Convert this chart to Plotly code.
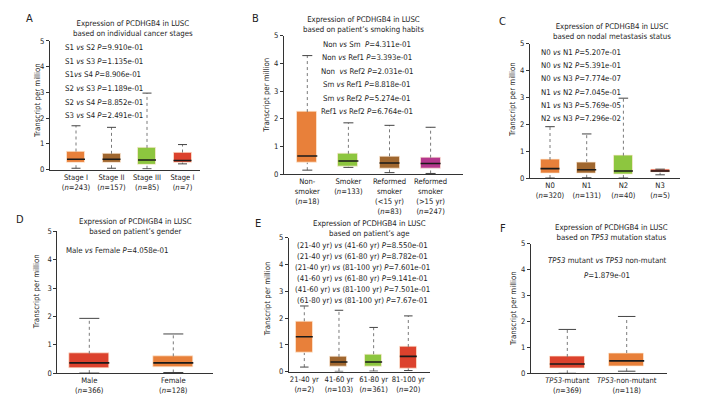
import plotly.graph_objects as go

W, H = 722, 404
FONT = "DejaVu Sans Condensed, DejaVu Sans, sans-serif"
TXT = "#222222"

# ---------------- data ----------------
A_labels = ["Stage I<br>(<i>n</i>=243)", "Stage II<br>(<i>n</i>=157)", "Stage III<br>(<i>n</i>=85)", "Stage I<br>(<i>n</i>=7)"]
A_min = [0.05, 0.05, 0.03, 0.22]
A_q1 = [0.24, 0.25, 0.20, 0.27]
A_med = [0.40, 0.40, 0.37, 0.35]
A_q3 = [0.70, 0.61, 0.84, 0.66]
A_max = [1.70, 1.64, 2.97, 0.97]
A_pvals = ["S1 <i>vs</i> S2 <i>P</i>=9.910e-01", "S1 <i>vs</i> S3 <i>P</i>=1.135e-01",
           "S1<i>vs</i> S4 <i>P</i>=8.906e-01", "S2 <i>vs</i> S3 <i>P</i>=1.189e-01",
           "S2 <i>vs</i> S4 <i>P</i>=8.852e-01", "S3 <i>vs</i> S4 <i>P</i>=2.491e-01"]
A_title = "Expression of PCDHGB4 in LUSC<br>based on individual cancer stages"

B_labels = ["Non-<br>smoker<br>(<i>n</i>=18)", "Smoker<br>(<i>n</i>=133)",
            "Reformed<br>smoker<br>(&lt;15 yr)<br>(<i>n</i>=83)", "Reformed<br>smoker<br>(&gt;15 yr)<br>(<i>n</i>=247)"]
B_min = [0.14, 0.24, 0.05, 0.02]
B_q1 = [0.41, 0.26, 0.21, 0.19]
B_med = [0.65, 0.47, 0.40, 0.38]
B_q3 = [2.24, 0.73, 0.64, 0.59]
B_max = [4.28, 1.85, 1.76, 1.69]
B_pvals = ["Non <i>vs</i> Sm  <i>P</i>=4.311e-01", "Non <i>vs</i> Ref1 <i>P</i>=3.393e-01",
           "Non  <i>vs</i> Ref2 <i>P</i>=2.031e-01", "Sm <i>vs</i> Ref1 <i>P</i>=8.818e-01",
           "Sm <i>vs</i> Ref2 <i>P</i>=5.274e-01", "Ref1 <i>vs</i> Ref2 <i>P</i>=6.764e-01"]
B_title = "Expression of PCDHGB4 in LUSC<br>based on patient\u2019s smoking habits"

C_labels = ["N0<br>(<i>n</i>=320)", "N1<br>(<i>n</i>=131)", "N2<br>(<i>n</i>=40)", "N3<br>(<i>n</i>=5)"]
C_min = [0.00, 0.01, 0.00, 0.12]
C_q1 = [0.17, 0.17, 0.12, 0.20]
C_med = [0.35, 0.31, 0.26, 0.26]
C_q3 = [0.67, 0.59, 0.83, 0.31]
C_max = [1.91, 1.64, 2.97, 0.33]
C_pvals = ["N0 <i>vs</i> N1 <i>P</i>=5.207e-01", "N0 <i>vs</i> N2 <i>P</i>=5.391e-01",
           "N0 <i>vs</i> N3 <i>P</i>=7.774e-07", "N1 <i>vs</i> N2 <i>P</i>=7.045e-01",
           "N1 <i>vs</i> N3 <i>P</i>=5.769e-05", "N2 <i>vs</i> N3 <i>P</i>=7.296e-02"]
C_title = "Expression of PCDHGB4 in LUSC<br>based on nodal metastasis status"

D_labels = ["Male<br>(<i>n</i>=366)", "Female<br>(<i>n</i>=128)"]
D_min = [0.00, 0.02]
D_q1 = [0.18, 0.21]
D_med = [0.36, 0.36]
D_q3 = [0.68, 0.59]
D_max = [1.93, 1.38]
D_pvals = ["Male <i>vs</i> Female <i>P</i>=4.058e-01"]
D_title = "Expression of PCDHGB4 in LUSC<br>based on patient\u2019s gender"

E_labels = ["21-40 yr<br>(<i>n</i>=2)", "41-60 yr<br>(<i>n</i>=103)", "61-80 yr<br>(<i>n</i>=361)", "81-100 yr<br>(<i>n</i>=20)"]
E_min = [0.17, 0.01, 0.02, 0.04]
E_q1 = [0.70, 0.18, 0.20, 0.12]
E_med = [1.30, 0.36, 0.36, 0.57]
E_q3 = [1.88, 0.55, 0.65, 0.92]
E_max = [2.45, 2.29, 1.65, 2.08]
E_pvals = ["(21-40 yr) <i>vs</i> (41-60 yr) <i>P</i>=8.550e-01", "(21-40 yr) <i>vs</i> (61-80 yr) <i>P</i>=8.782e-01",
           "(21-40 yr) <i>vs</i> (81-100 yr) <i>P</i>=7.601e-01", "(41-60 yr) <i>vs</i> (61-80 yr) <i>P</i>=9.141e-01",
           "(41-60 yr) <i>vs</i> (81-100 yr) <i>P</i>=7.501e-01", "(61-80 yr) <i>vs</i> (81-100 yr) <i>P</i>=7.67e-01"]
E_title = "Expression of PCDHGB4 in LUSC<br>based on patient\u2019s age"

F_labels = ["<i>TP53</i>-mutant<br>(<i>n</i>=369)", "<i>TP53</i>-non-mutant<br>(<i>n</i>=118)"]
F_min = [0.00, 0.08]
F_q1 = [0.20, 0.25]
F_med = [0.36, 0.48]
F_q3 = [0.63, 0.78]
F_max = [1.69, 2.19]
F_pvals = ["<i>TP53</i> mutant <i>vs</i> <i>TP53</i> non-mutant", "<i>P</i>=1.879e-01"]
F_title = "Expression of PCDHGB4 in LUSC<br>based on <i>TP53</i> mutation status"

ORANGE, BROWN, GREEN, RED, MAGENTA = "#E8803A", "#A0672F", "#8DC63F", "#DC422D", "#B5378C"

# ---------------- layout specs (pixels) ----------------
panels = [
    dict(letter="A", labels=A_labels, mn=A_min, q1=A_q1, med=A_med, q3=A_q3, mx=A_max,
         colors=[ORANGE, BROWN, GREEN, RED], pvals=A_pvals, title=A_title,
         xl=50, xr=200, y0=169.3, y5=37.7, c0=76, dc=35.5, bw=18,
         let=(29, 15), tit=(133, 25.3), pv=(63.3, 44.3, 14.0, "left"), yt=(37.3, 99)),
    dict(letter="B", labels=B_labels, mn=B_min, q1=B_q1, med=B_med, q3=B_q3, mx=B_max,
         colors=[ORANGE, GREEN, BROWN, MAGENTA], pvals=B_pvals, title=B_title,
         xl=284, xr=463, y0=173.9, y5=32.4, c0=307.3, dc=41.1, bw=20,
         let=(255, 15), tit=(364, 20.8), pv=(366.7, 41, 13.8, "center"), yt=(266.7, 93)),
    dict(letter="C", labels=C_labels, mn=C_min, q1=C_q1, med=C_med, q3=C_q3, mx=C_max,
         colors=[ORANGE, BROWN, GREEN, RED], pvals=C_pvals, title=C_title,
         xl=530, xr=680, y0=178, y5=40.5, c0=550, dc=36.7, bw=19,
         let=(502.7, 18.3), tit=(611.7, 28.5), pv=(539.3, 49.3, 13.6, "left"), yt=(513.3, 98)),
    dict(letter="D", labels=D_labels, mn=D_min, q1=D_q1, med=D_med, q3=D_q3, mx=D_max,
         colors=[RED, ORANGE], pvals=D_pvals, title=D_title,
         xl=57.3, xr=213, y0=377.5, y5=232.5, c0=89.3, dc=84, bw=40,
         let=(20, 220.7), tit=(135.5, 227.2), pv=(64, 251.7, 12, "left"), yt=(36.7, 294)),
    dict(letter="E", labels=E_labels, mn=E_min, q1=E_q1, med=E_med, q3=E_q3, mx=E_max,
         colors=[ORANGE, BROWN, GREEN, RED], pvals=E_pvals, title=E_title,
         xl=289, xr=430, y0=376, y5=239, c0=304.3, dc=34.67, bw=17,
         let=(258.3, 225), tit=(369, 229.5), pv=(362, 247.3, 11.2, "center"), yt=(268.3, 301.7)),
    dict(letter="F", labels=F_labels, mn=F_min, q1=F_q1, med=F_med, q3=F_q3, mx=F_max,
         colors=[RED, ORANGE], pvals=F_pvals, title=F_title,
         xl=531, xr=666.7, y0=377.7, y5=245, c0=567.3, dc=59.4, bw=35,
         let=(502.7, 230), tit=(611.7, 234), pv=(607, 262.7, 14.6, "center"), yt=(513.3, 311.7)),
]

FS_TITLE, FS_PV, FS_TICK, FS_YT, FS_LET = 7.8, 7.8, 7.6, 7.8, 11


def fx(p):
    return p / W


def fy(p):
    return 1 - p / H


fig = go.Figure()
annotations = []
layout = {}

for k, P in enumerate(panels):
    idx = "" if k == 0 else str(k + 1)
    xa, ya = "x" + idx, "y" + idx
    n = len(P["labels"])
    pos = list(range(n))
    bw = P["bw"] / P["dc"]
    cw = bw * 0.25
    xr0 = -(P["c0"] - P["xl"]) / P["dc"]
    xr1 = (n - 1) + (P["xr"] - (P["c0"] + (n - 1) * P["dc"])) / P["dc"]

    # whiskers (dotted)
    wx, wy = [], []
    for i in pos:
        wx += [i, i, None, i, i, None]
        wy += [P["mn"][i], P["q1"][i], None, P["q3"][i], P["mx"][i], None]
    fig.add_trace(go.Scatter(x=wx, y=wy, mode="lines", xaxis=xa, yaxis=ya, showlegend=False,
                             line=dict(color="#7a7a7a", width=1, dash="dot"), hoverinfo="skip"))
    # caps
    cx, cy = [], []
    for i in pos:
        cx += [i - cw, i + cw, None, i - cw, i + cw, None]
        cy += [P["mx"][i], P["mx"][i], None, P["mn"][i], P["mn"][i], None]
    fig.add_trace(go.Scatter(x=cx, y=cy, mode="lines", xaxis=xa, yaxis=ya, showlegend=False,
                             line=dict(color="#444444", width=1), hoverinfo="skip"))
    # boxes
    fig.add_trace(go.Bar(x=pos, y=[P["q3"][i] - P["q1"][i] for i in pos], base=P["q1"],
                         width=bw, xaxis=xa, yaxis=ya, showlegend=False,
                         marker=dict(color=P["colors"], line=dict(color="rgba(255,235,215,0.7)", width=1))))
    # medians
    mx_, my_ = [], []
    for i in pos:
        mx_ += [i - bw / 2, i + bw / 2, None]
        my_ += [P["med"][i], P["med"][i], None]
    fig.add_trace(go.Scatter(x=mx_, y=my_, mode="lines", xaxis=xa, yaxis=ya, showlegend=False,
                             line=dict(color="#1a1a1a", width=1.6), hoverinfo="skip"))

    layout["xaxis" + idx] = dict(domain=[fx(P["xl"]), fx(P["xr"])], range=[xr0, xr1], anchor=ya,
                                 tickvals=pos, ticktext=P["labels"], ticks="", showgrid=False,
                                 tickangle=0, zeroline=False, showline=True, linecolor="#333",
                                 linewidth=1, tickfont=dict(size=FS_TICK, family=FONT, color=TXT),
                                 fixedrange=True)
    layout["yaxis" + idx] = dict(domain=[fy(P["y0"]), fy(P["y5"])], range=[0, 5], anchor=xa,
                                 tickvals=[0, 1, 2, 3, 4, 5], ticks="outside", ticklen=3,
                                 tickcolor="#333", showgrid=False, zeroline=False, showline=True,
                                 linecolor="#333", linewidth=1, tickangle=0,
                                 tickfont=dict(size=FS_TICK, family=FONT, color=TXT), fixedrange=True)

    annotations.append(dict(text=P["letter"], x=fx(P["let"][0]), y=fy(P["let"][1]), xref="paper",
                            yref="paper", showarrow=False, xanchor="center", yanchor="middle",
                            font=dict(size=FS_LET, family=FONT, color=TXT)))
    annotations.append(dict(text=P["title"], x=fx(P["tit"][0]), y=fy(P["tit"][1]), xref="paper",
                            yref="paper", showarrow=False, xanchor="center", yanchor="middle",
                            align="center", font=dict(size=FS_TITLE, family=FONT, color=TXT)))
    px0, py0, dy, al = P["pv"]
    for j, t in enumerate(P["pvals"]):
        annotations.append(dict(text=t, x=fx(px0), y=fy(py0 + j * dy), xref="paper", yref="paper",
                                showarrow=False, xanchor=al, yanchor="middle",
                                font=dict(size=FS_PV, family=FONT, color=TXT)))
    annotations.append(dict(text="Transcript per million", x=fx(P["yt"][0]), y=fy(P["yt"][1]),
                            xref="paper", yref="paper", showarrow=False, textangle=-90,
                            xanchor="center", yanchor="middle",
                            font=dict(size=FS_YT, family=FONT, color=TXT)))

fig.update_layout(width=W, height=H, margin=dict(l=0, r=0, t=0, b=0), plot_bgcolor="white",
                  paper_bgcolor="white", annotations=annotations, bargap=0,
                  font=dict(family=FONT, color=TXT), **layout)
fig.write_html("out.html")
